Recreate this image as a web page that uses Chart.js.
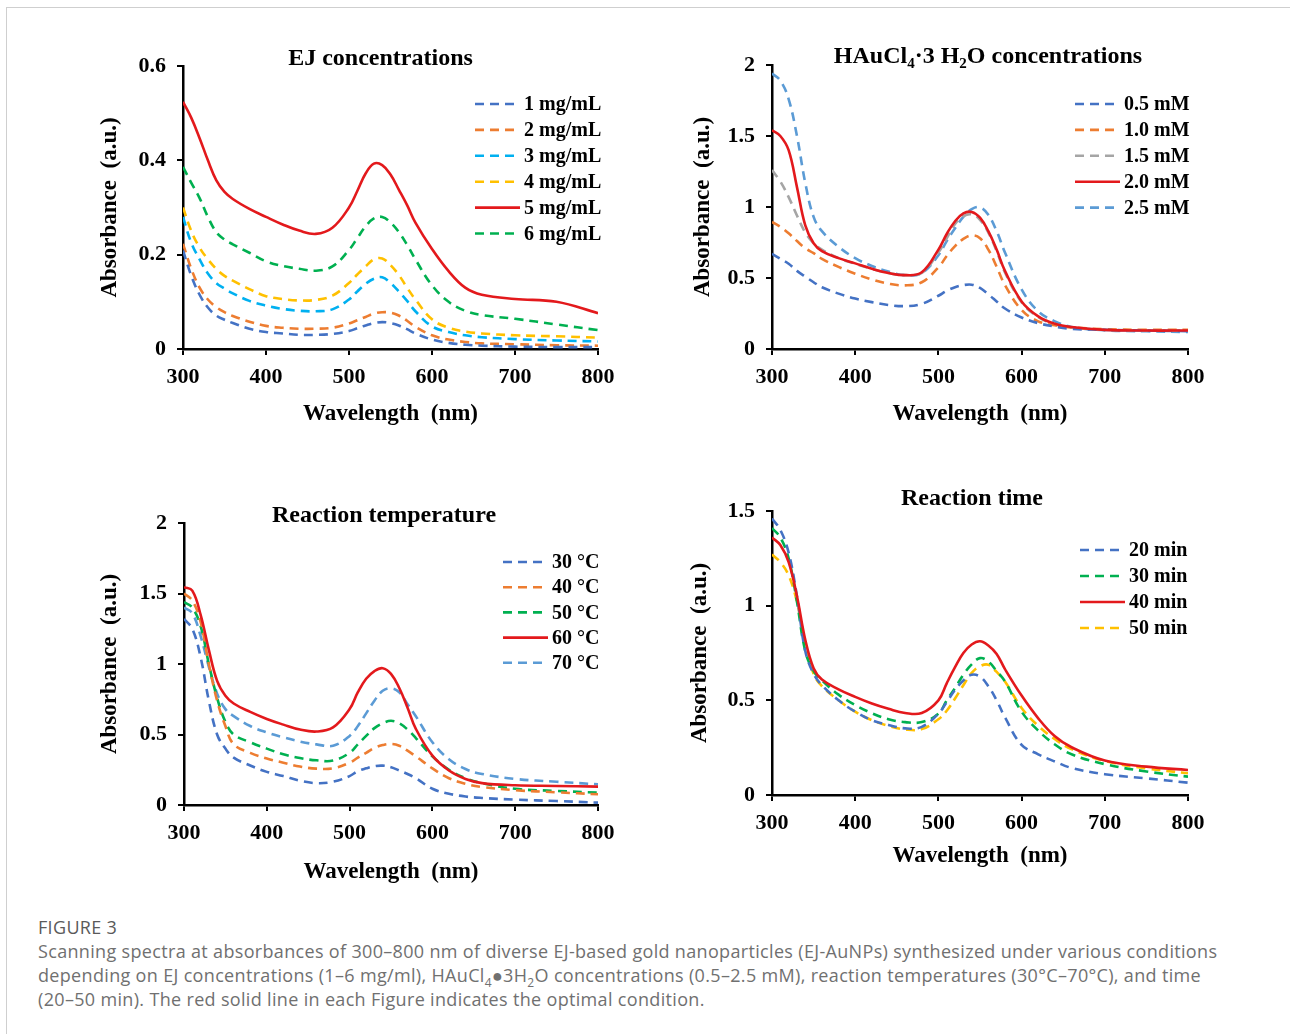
<!DOCTYPE html>
<html>
<head>
<meta charset="utf-8">
<script src="https://cdn.jsdelivr.net/npm/chart.js@4.4.1/dist/chart.umd.min.js"></script>
<style>
  html, body { margin: 0; padding: 0; background: #fff; }
  body { width: 1290px; height: 1034px; position: relative; overflow: hidden; }
  .frame { position: absolute; left: 6px; top: 7px; width: 1300px; height: 1100px;
           border-left: 1.5px solid #cfcfcf; border-top: 1.5px solid #cfcfcf; }
  canvas.panel { position: absolute; }
  .caption { position: absolute; left: 38px; top: 915px; font-family: "Open Sans", sans-serif;
             font-size: 18px; letter-spacing: 0.33px; line-height: 24px; color: #707070; white-space: nowrap; }
  .caption .fig { color: #5a5a5a; }
  .caption sub { font-size: 12px; line-height: 0; }
</style>
</head>
<body>
<div class="frame"></div>
<canvas id="p1" class="panel" width="600" height="420" style="left:40px;top:20px"></canvas>
<canvas id="p2" class="panel" width="600" height="420" style="left:630px;top:20px"></canvas>
<canvas id="p3" class="panel" width="600" height="440" style="left:40px;top:470px"></canvas>
<canvas id="p4" class="panel" width="600" height="440" style="left:630px;top:460px"></canvas>
<div class="caption">
  <div class="fig">FIGURE 3</div>
  <div>Scanning spectra at absorbances of 300–800 nm of diverse EJ-based gold nanoparticles (EJ-AuNPs) synthesized under various conditions</div>
  <div>depending on EJ concentrations (1–6 mg/ml), HAuCl<sub>4</sub>●3H<sub>2</sub>O concentrations (0.5–2.5 mM), reaction temperatures (30°C–70°C), and time</div>
  <div>(20–50 min). The red solid line in each Figure indicates the optimal condition.</div>
</div>
<script>
// shared wavelength grid (nm) and axis ticks
const wavelengths = [300, 310, 320, 330, 340, 350, 360, 380, 400, 420, 440, 460, 480, 500,
  510, 520, 530, 540, 550, 560, 570, 580, 600, 620, 640, 660, 700, 750, 800];
const xTicks = [300, 400, 500, 600, 700, 800];

// EJ concentrations
const ejLabels = ['1 mg/mL', '2 mg/mL', '3 mg/mL', '4 mg/mL', '5 mg/mL', '6 mg/mL'];
const ej1 = [.209, .155, .115, .088, .071, .062, .055, .043, .036, .033, .030, .030, .032, .038, .044, .050, .055, .057, .055, .050, .042, .033, .020, .013, .009, .007, .005, .004, .004];
const ej2 = [.223, .170, .130, .105, .089, .078, .070, .058, .049, .045, .043, .043, .045, .054, .061, .068, .075, .078, .077, .071, .060, .047, .029, .020, .015, .012, .010, .008, .007];
const ej3 = [.280, .225, .190, .160, .140, .128, .118, .102, .092, .085, .081, .080, .084, .105, .122, .138, .149, .152, .140, .122, .102, .080, .048, .036, .029, .025, .021, .018, .016];
const ej4 = [.300, .250, .215, .190, .170, .155, .145, .127, .112, .106, .103, .104, .113, .140, .158, .175, .190, .192, .178, .157, .130, .105, .063, .045, .037, .033, .029, .027, .024];
const ej5 = [.524, .490, .447, .400, .358, .333, .318, .297, .280, .264, .251, .244, .257, .300, .335, .372, .393, .390, .370, .338, .305, .268, .212, .165, .130, .115, .106, .100, .076];
const ej6 = [.386, .352, .320, .280, .248, .232, .222, .204, .186, .176, .170, .166, .175, .210, .235, .260, .277, .280, .268, .248, .221, .190, .135, .100, .081, .072, .064, .052, .040];
const ejTicks = [0, 0.2, 0.4, 0.6];

// HAuCl4 concentrations
const auLabels = ['0.5 mM', '1.0 mM', '1.5 mM', '2.0 mM', '2.5 mM'];
const au05 = [.670, .635, .600, .550, .510, .470, .435, .390, .355, .330, .310, .302, .318, .375, .410, .435, .450, .453, .430, .385, .335, .285, .222, .182, .158, .142, .135, .130, .125];
const au10 = [.895, .860, .815, .760, .710, .675, .635, .578, .530, .490, .460, .448, .470, .575, .655, .725, .775, .800, .780, .700, .580, .450, .275, .195, .167, .152, .140, .135, .135];
const au15 = [1.26, 1.18, 1.07, .940, .820, .745, .700, .640, .600, .565, .535, .520, .535, .680, .780, .880, .935, .948, .910, .820, .690, .540, .330, .225, .175, .152, .135, .130, .130];
const au20 = [1.54, 1.50, 1.40, 1.14, .870, .745, .690, .640, .603, .565, .535, .520, .540, .700, .810, .900, .955, .965, .925, .830, .700, .550, .335, .230, .178, .155, .135, .130, .130];
const au25 = [1.94, 1.89, 1.76, 1.50, 1.17, .930, .830, .720, .640, .585, .545, .520, .535, .660, .760, .850, .930, .985, .998, .945, .830, .680, .420, .265, .195, .155, .132, .125, .120];
const auTicks = [0, 0.5, 1, 1.5, 2];

// reaction temperature
const tempLabels = ['30 °C', '40 °C', '50 °C', '60 °C', '70 °C'];
const t30 = [1.32, 1.25, 1.05, .740, .500, .400, .336, .280, .235, .205, .172, .155, .165, .205, .240, .260, .275, .279, .268, .245, .220, .190, .115, .080, .060, .050, .038, .028, .017];
const t40 = [1.50, 1.45, 1.30, 1.00, .740, .560, .431, .370, .330, .300, .273, .258, .260, .300, .336, .370, .405, .425, .433, .420, .385, .345, .260, .190, .150, .128, .105, .090, .076];
const t50 = [1.44, 1.40, 1.27, 1.00, .760, .590, .500, .445, .400, .360, .333, .317, .315, .370, .430, .490, .545, .580, .597, .580, .535, .475, .345, .250, .190, .155, .115, .100, .088];
const t60 = [1.545, 1.52, 1.35, 1.10, .880, .775, .720, .660, .610, .570, .535, .521, .550, .680, .800, .895, .950, .970, .930, .830, .690, .540, .350, .245, .185, .155, .140, .135, .130];
const t70 = [1.40, 1.36, 1.20, .980, .790, .680, .630, .560, .515, .480, .450, .430, .420, .490, .560, .650, .740, .810, .828, .800, .715, .630, .445, .325, .255, .220, .185, .165, .147];
const tempTicks = [0, 0.5, 1, 1.5, 2];

// reaction time
const timeLabels = ['20 min', '30 min', '40 min', '50 min'];
const m20 = [1.46, 1.40, 1.28, 1.05, .760, .640, .580, .500, .440, .395, .370, .352, .360, .430, .490, .555, .605, .635, .625, .575, .500, .410, .265, .215, .177, .143, .110, .088, .065];
const m30 = [1.41, 1.36, 1.25, 1.02, .760, .655, .605, .530, .475, .432, .400, .385, .385, .430, .500, .565, .635, .690, .723, .705, .655, .600, .440, .340, .267, .215, .163, .124, .097];
const m40 = [1.36, 1.32, 1.23, 1.05, .820, .670, .610, .558, .518, .483, .455, .433, .433, .500, .590, .675, .750, .795, .812, .790, .745, .665, .525, .405, .310, .252, .182, .150, .132];
const m50 = [1.27, 1.23, 1.16, 1.02, .800, .640, .575, .500, .440, .395, .365, .346, .348, .400, .445, .510, .580, .645, .680, .688, .650, .600, .460, .365, .295, .242, .180, .140, .115];
const timeTicks = [0, 0.5, 1, 1.5];

const BLUE = '#4472C4', ORANGE = '#ED7D31', CYAN = '#00B0F0', YELLOW = '#FFC000';
const RED = '#E3191C', GREEN = '#00B050', GRAY = '#A5A5A5', LIGHTBLUE = '#5B9BD5';
const SERIF = '"Liberation Serif", "Times New Roman", serif';

function series(label, values, color, solid) {
  return {
    label: label,
    data: values.map((v, i) => ({ x: wavelengths[i], y: v })),
    borderColor: color,
    borderWidth: 2.6,
    borderDash: solid ? [] : [9, 6],
    pointRadius: 0,
    tension: 0.4,
    order: solid ? 0 : 1
  };
}

// draws the panel heading (with subscripts) and the in-plot legend
const panelDecor = {
  id: 'panelDecor',
  afterDraw(chart, args, opts) {
    const { ctx, chartArea } = chart;
    ctx.save();
    ctx.fillStyle = '#000';
    ctx.textBaseline = 'alphabetic';
    let total = 0;
    opts.title.forEach(s => {
      ctx.font = 'bold ' + (s.sub ? 15 : 24) + 'px ' + SERIF;
      s.w = ctx.measureText(s.t).width;
      total += s.w;
    });
    let x = (chartArea.left + chartArea.right) / 2 + opts.titleDx - total / 2;
    const y = chartArea.top + opts.titleDy;
    opts.title.forEach(s => {
      ctx.font = 'bold ' + (s.sub ? 15 : 24) + 'px ' + SERIF;
      ctx.fillText(s.t, x, s.sub ? y + 5 : y);
      x += s.w;
    });

    const lg = opts.legend;
    chart.data.datasets.forEach((ds, i) => {
      const ly = chartArea.top + lg.y + i * lg.row;
      const lx = chartArea.left + lg.x;
      ctx.strokeStyle = ds.borderColor;
      ctx.lineWidth = ds.borderWidth;
      ctx.setLineDash(ds.borderDash);
      ctx.beginPath();
      ctx.moveTo(lx, ly);
      ctx.lineTo(lx + 45, ly);
      ctx.stroke();
      ctx.setLineDash([]);
      ctx.font = 'bold 20px ' + SERIF;
      ctx.textBaseline = 'middle';
      ctx.fillText(ds.label, lx + 49, ly + 1);
    });
    ctx.restore();
  }
};

function makePanel(id, cfg) {
  const tickFont = { family: SERIF, size: 22, weight: 'bold', lineHeight: 1.2 };
  const titleFont = { family: SERIF, size: 23, weight: 'bold', lineHeight: 1.2 };
  return new Chart(document.getElementById(id), {
    type: 'line',
    data: { datasets: cfg.datasets },
    options: {
      responsive: false,
      animation: false,
      devicePixelRatio: 1,
      layout: { padding: { left: 0, right: cfg.padR, top: cfg.padT, bottom: 0 } },
      plugins: {
        legend: { display: false },
        tooltip: { enabled: false },
        panelDecor: { title: cfg.title, titleDx: cfg.titleDx, titleDy: cfg.titleDy, legend: cfg.legend }
      },
      scales: {
        x: {
          type: 'linear', min: 300, max: 800,
          afterBuildTicks: s => { s.ticks = xTicks.map(v => ({ value: v })); },
          afterFit: s => { s.height = cfg.xH; },
          border: { color: '#000', width: 2.5 },
          grid: { drawOnChartArea: false, drawTicks: true, tickLength: 6, color: '#000', lineWidth: 2 },
          ticks: { color: '#000', font: tickFont, padding: 9, maxRotation: 0 },
          title: { display: true, text: 'Wavelength  (nm)', color: '#000', font: titleFont,
                   padding: { top: 0, bottom: cfg.xTitlePad } }
        },
        y: {
          type: 'linear', min: 0, max: cfg.yTicks[cfg.yTicks.length - 1],
          afterBuildTicks: s => { s.ticks = cfg.yTicks.map(v => ({ value: v })); },
          afterFit: s => { s.width = cfg.yW; },
          border: { color: '#000', width: 2.5 },
          grid: { drawOnChartArea: false, drawTicks: true, tickLength: 6, color: '#000', lineWidth: 2 },
          ticks: { color: '#000', font: tickFont, padding: 11, callback: v => String(Number(v.toFixed(2))) },
          title: { display: true, text: 'Absorbance  (a.u.)', color: '#000', font: titleFont,
                   padding: { top: cfg.yTitlePad, bottom: 0 } }
        }
      }
    },
    plugins: [panelDecor]
  });
}

makePanel('p1', {
  datasets: [
    series(ejLabels[0], ej1, BLUE), series(ejLabels[1], ej2, ORANGE), series(ejLabels[2], ej3, CYAN),
    series(ejLabels[3], ej4, YELLOW), series(ejLabels[4], ej5, RED, true), series(ejLabels[5], ej6, GREEN)
  ],
  yTicks: ejTicks, yW: 143, xH: 91, padR: 42, padT: 46, xTitlePad: 12, yTitlePad: 56,
  title: [{ t: 'EJ concentrations' }], titleDx: -10, titleDy: -1,
  legend: { x: 292, y: 38, row: 25.9 }
});

makePanel('p2', {
  datasets: [
    series(auLabels[0], au05, BLUE), series(auLabels[1], au10, ORANGE), series(auLabels[2], au15, GRAY),
    series(auLabels[3], au20, RED, true), series(auLabels[4], au25, LIGHTBLUE)
  ],
  yTicks: auTicks, yW: 142, xH: 91, padR: 42, padT: 45, xTitlePad: 12, yTitlePad: 59,
  title: [{ t: 'HAuCl' }, { t: '4', sub: true }, { t: '·3 H' }, { t: '2', sub: true }, { t: 'O concentrations' }],
  titleDx: 8, titleDy: -2,
  legend: { x: 303, y: 39, row: 25.9 }
});

makePanel('p3', {
  datasets: [
    series(tempLabels[0], t30, BLUE), series(tempLabels[1], t40, ORANGE), series(tempLabels[2], t50, GREEN),
    series(tempLabels[3], t60, RED, true), series(tempLabels[4], t70, LIGHTBLUE)
  ],
  yTicks: tempTicks, yW: 144, xH: 105, padR: 42, padT: 53, xTitlePad: 24, yTitlePad: 56,
  title: [{ t: 'Reaction temperature' }], titleDx: -7, titleDy: -1,
  legend: { x: 319, y: 39, row: 25.2 }
});

makePanel('p4', {
  datasets: [
    series(timeLabels[0], m20, BLUE), series(timeLabels[1], m30, GREEN),
    series(timeLabels[2], m40, RED, true), series(timeLabels[3], m50, YELLOW)
  ],
  yTicks: timeTicks, yW: 142, xH: 105, padR: 42, padT: 51, xTitlePad: 30, yTitlePad: 56,
  title: [{ t: 'Reaction time' }], titleDx: -8, titleDy: -6,
  legend: { x: 308, y: 39, row: 26 }
});
</script>
</body>
</html>
